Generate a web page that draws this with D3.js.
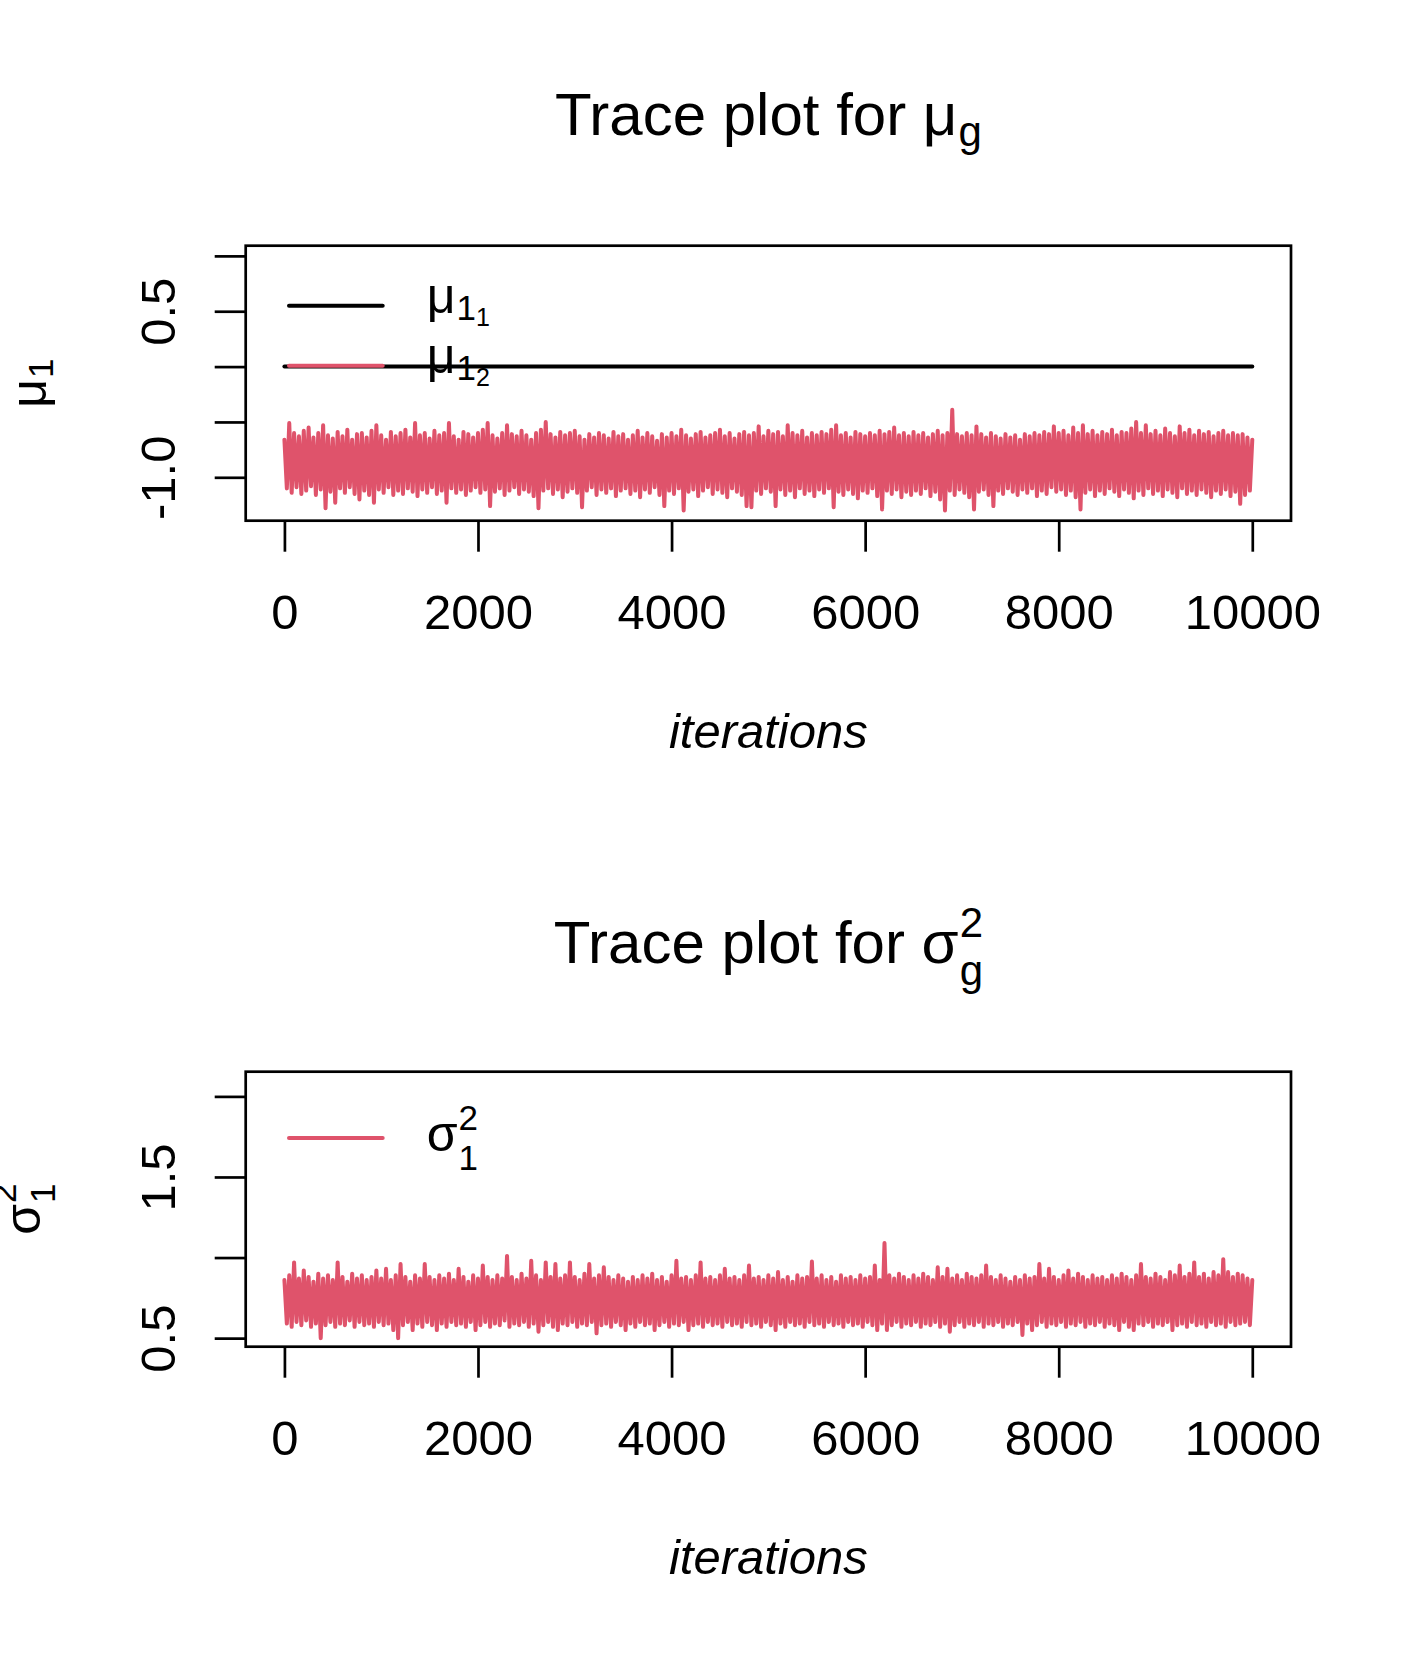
<!DOCTYPE html>
<html>
<head>
<meta charset="utf-8">
<script src="https://cdn.jsdelivr.net/npm/d3@7"></script>
<style>
  body { margin: 0; background: #fff; }
  svg { display: block; }
</style>
</head>
<body>
<svg id="chart" width="1417" height="1653"></svg>
<script>
// ---- data ----
const iterTicks = [0, 2000, 4000, 6000, 8000, 10000];
const iterLim = [0, 10000];
const stepIter = 50; // one peak every 50 iterations, one trough half way between

const muTicks = [-1.0, -0.5, 0.0, 0.5, 1.0];
const muTickLabels = ['-1.0', '', '', '0.5', ''];
const muLim = [-1.30, 1.00];

const sigmaTicks = [0.5, 1.0, 1.5, 2.0];
const sigmaTickLabels = ['0.5', '', '1.5', ''];
const sigmaLim = [0.51, 2.09];

// chain 1 of mu_1 stays flat at 0
const mu11Iter = [0, 10000];
const mu11 = [0, 0];

// chain 2 of mu_1: upper and lower edges of the trace band
const mu12Peaks = [
  -0.66, -0.51, -0.60, -0.63, -0.58, -0.55, -0.64, -0.60, -0.53, -0.62,
  -0.65, -0.59, -0.63, -0.57, -0.66, -0.61, -0.60, -0.64, -0.58, -0.53,
  -0.62, -0.66, -0.59, -0.63, -0.60, -0.57, -0.64, -0.51, -0.62, -0.60,
  -0.65, -0.58, -0.62, -0.60, -0.51, -0.63, -0.66, -0.59, -0.61, -0.64,
  -0.60, -0.57, -0.51, -0.62, -0.65, -0.60, -0.53, -0.61, -0.63, -0.58,
  -0.62, -0.66, -0.60, -0.57, -0.50, -0.61, -0.64, -0.59, -0.62, -0.60,
  -0.58, -0.63, -0.66, -0.61, -0.64, -0.60, -0.62, -0.65, -0.59, -0.63,
  -0.61, -0.66, -0.62, -0.58, -0.64, -0.60, -0.63, -0.67, -0.61, -0.64,
  -0.60, -0.63, -0.57, -0.62, -0.65, -0.61, -0.59, -0.64, -0.62, -0.60,
  -0.57, -0.63, -0.60, -0.65, -0.61, -0.59, -0.62, -0.60, -0.54, -0.63,
  -0.58, -0.61, -0.59, -0.63, -0.53, -0.60, -0.62, -0.58, -0.64, -0.60,
  -0.62, -0.59, -0.61, -0.57, -0.53, -0.62, -0.60, -0.64, -0.59, -0.61,
  -0.63, -0.60, -0.62, -0.58, -0.61, -0.59, -0.55, -0.62, -0.60, -0.63,
  -0.59, -0.62, -0.60, -0.64, -0.61, -0.58, -0.62, -0.60, -0.39, -0.61,
  -0.63, -0.60, -0.62, -0.54, -0.61, -0.64, -0.60, -0.63, -0.65, -0.61,
  -0.64, -0.62, -0.66, -0.61, -0.63, -0.60, -0.62, -0.59, -0.61, -0.54,
  -0.60, -0.58, -0.62, -0.55, -0.60, -0.53, -0.61, -0.58, -0.62, -0.59,
  -0.61, -0.57, -0.62, -0.59, -0.60, -0.56, -0.50, -0.60, -0.53, -0.61,
  -0.58, -0.62, -0.56, -0.60, -0.63, -0.54, -0.60, -0.57, -0.62, -0.58,
  -0.61, -0.59, -0.63, -0.60, -0.58, -0.62, -0.60, -0.62, -0.61, -0.64,
  -0.66
];
const mu12Troughs = [
  -1.10, -1.14, -1.09, -1.15, -1.12, -1.08, -1.16, -1.11, -1.28, -1.13,
  -1.23, -1.10, -1.14, -1.09, -1.15, -1.20, -1.12, -1.16, -1.23, -1.11,
  -1.14, -1.09, -1.16, -1.12, -1.15, -1.10, -1.13, -1.17, -1.11, -1.14,
  -1.09, -1.15, -1.12, -1.23, -1.10, -1.14, -1.11, -1.16, -1.12, -1.09,
  -1.14, -1.11, -1.26, -1.13, -1.10, -1.16, -1.12, -1.09, -1.15, -1.11,
  -1.13, -1.17, -1.28, -1.12, -1.10, -1.15, -1.11, -1.18, -1.13, -1.10,
  -1.14, -1.27, -1.12, -1.09, -1.16, -1.11, -1.14, -1.10, -1.17, -1.12,
  -1.10, -1.15, -1.12, -1.18, -1.11, -1.14, -1.09, -1.16, -1.26, -1.12,
  -1.15, -1.10, -1.30, -1.13, -1.11, -1.17, -1.12, -1.09, -1.15, -1.11,
  -1.14, -1.18, -1.10, -1.13, -1.16, -1.26, -1.27, -1.12, -1.15, -1.10,
  -1.13, -1.26, -1.11, -1.16, -1.12, -1.18, -1.10, -1.15, -1.12, -1.17,
  -1.11, -1.14, -1.10, -1.27, -1.13, -1.16, -1.11, -1.15, -1.19, -1.12,
  -1.14, -1.10, -1.17, -1.29, -1.12, -1.15, -1.11, -1.18, -1.13, -1.16,
  -1.12, -1.15, -1.10, -1.17, -1.13, -1.20, -1.30, -1.12, -1.16, -1.11,
  -1.14, -1.18, -1.29, -1.13, -1.11, -1.16, -1.26, -1.12, -1.15, -1.10,
  -1.13, -1.16, -1.11, -1.14, -1.10, -1.17, -1.12, -1.15, -1.09, -1.13,
  -1.11, -1.16, -1.12, -1.18, -1.29, -1.14, -1.11, -1.17, -1.12, -1.15,
  -1.10, -1.13, -1.17, -1.11, -1.14, -1.19, -1.12, -1.16, -1.10, -1.15,
  -1.12, -1.17, -1.11, -1.14, -1.18, -1.10, -1.15, -1.12, -1.16, -1.11,
  -1.14, -1.18, -1.12, -1.15, -1.11, -1.17, -1.13, -1.24, -1.16, -1.12
];

// sigma^2_1: upper and lower edges of the trace band
const sig1Peaks = [
  0.86, 0.89, 0.97, 0.87, 0.92, 0.88, 0.85, 0.90, 0.87, 0.89,
  0.86, 0.97, 0.88, 0.85, 0.90, 0.87, 0.89, 0.86, 0.88, 0.92,
  0.87, 0.93, 0.86, 0.89, 0.96, 0.88, 0.85, 0.89, 0.87, 0.96,
  0.88, 0.86, 0.89, 0.87, 0.90, 0.86, 0.93, 0.88, 0.85, 0.89,
  0.87, 0.95, 0.88, 0.86, 0.89, 0.87, 1.01, 0.88, 0.86, 0.90,
  0.87, 0.98, 0.89, 0.86, 0.97, 0.88, 0.96, 0.87, 0.89, 0.97,
  0.88, 0.86, 0.90, 0.96, 0.87, 0.89, 0.94, 0.88, 0.86, 0.89,
  0.87, 0.85, 0.88, 0.86, 0.89, 0.87, 0.90, 0.86, 0.88, 0.85,
  0.89, 0.98, 0.87, 0.88, 0.86, 0.89, 0.97, 0.87, 0.88, 0.86,
  0.89, 0.93, 0.87, 0.88, 0.86, 0.89, 0.95, 0.87, 0.88, 0.86,
  0.89, 0.87, 0.91, 0.86, 0.88, 0.85, 0.89, 0.87, 0.88, 0.975,
  0.87, 0.89, 0.86, 0.88, 0.85, 0.89, 0.87, 0.88, 0.86, 0.89,
  0.87, 0.88, 0.95, 0.86, 1.09, 0.89, 0.87, 0.90, 0.88, 0.86,
  0.89, 0.87, 0.90, 0.88, 0.86, 0.94, 0.88, 0.93, 0.87, 0.89,
  0.86, 0.90, 0.88, 0.87, 0.89, 0.95, 0.88, 0.86, 0.89, 0.87,
  0.85, 0.88, 0.86, 0.89, 0.87, 0.88, 0.96, 0.87, 0.93, 0.88,
  0.86, 0.89, 0.92, 0.87, 0.90, 0.88, 0.86, 0.89, 0.87, 0.88,
  0.86, 0.89, 0.87, 0.90, 0.88, 0.86, 0.89, 0.96, 0.88, 0.87,
  0.90, 0.88, 0.86, 0.91, 0.89, 0.95, 0.88, 0.90, 0.97, 0.88,
  0.90, 0.87, 0.91, 0.89, 0.99, 0.91, 0.88, 0.90, 0.89, 0.87,
  0.86
];
const sig1Troughs = [
  0.59, 0.57, 0.60, 0.58, 0.61, 0.57, 0.59, 0.50, 0.58, 0.60,
  0.57, 0.59, 0.58, 0.61, 0.57, 0.60, 0.58, 0.59, 0.57, 0.60,
  0.58, 0.59, 0.55, 0.50, 0.58, 0.60, 0.55, 0.59, 0.57, 0.60,
  0.58, 0.55, 0.59, 0.57, 0.60, 0.58, 0.59, 0.57, 0.60, 0.55,
  0.58, 0.60, 0.57, 0.59, 0.58, 0.61, 0.57, 0.59, 0.58, 0.60,
  0.57, 0.59, 0.54, 0.58, 0.60, 0.57, 0.55, 0.59, 0.58, 0.60,
  0.57, 0.59, 0.58, 0.60, 0.53, 0.58, 0.59, 0.57, 0.60, 0.58,
  0.55, 0.59, 0.57, 0.60, 0.58, 0.59, 0.55, 0.58, 0.60, 0.57,
  0.59, 0.58, 0.60, 0.55, 0.58, 0.59, 0.57, 0.60, 0.58, 0.59,
  0.57, 0.60, 0.58, 0.59, 0.57, 0.60, 0.58, 0.59, 0.57, 0.60,
  0.58, 0.55, 0.59, 0.57, 0.60, 0.58, 0.59, 0.57, 0.60, 0.58,
  0.59, 0.57, 0.60, 0.58, 0.59, 0.57, 0.60, 0.58, 0.59, 0.57,
  0.60, 0.58, 0.55, 0.59, 0.55, 0.58, 0.60, 0.57, 0.59, 0.58,
  0.60, 0.57, 0.59, 0.58, 0.60, 0.57, 0.59, 0.54, 0.58, 0.60,
  0.57, 0.59, 0.58, 0.60, 0.57, 0.59, 0.58, 0.60, 0.57, 0.59,
  0.58, 0.60, 0.52, 0.59, 0.55, 0.58, 0.60, 0.57, 0.59, 0.58,
  0.60, 0.57, 0.59, 0.58, 0.60, 0.57, 0.59, 0.58, 0.60, 0.57,
  0.59, 0.58, 0.55, 0.60, 0.57, 0.55, 0.59, 0.58, 0.60, 0.57,
  0.59, 0.58, 0.60, 0.55, 0.58, 0.59, 0.57, 0.60, 0.58, 0.59,
  0.57, 0.60, 0.58, 0.59, 0.57, 0.60, 0.58, 0.59, 0.60, 0.58
];

// ---- drawing ----
const svg = d3.select('#chart');
const FONT = '"Liberation Sans", Arial, Helvetica, sans-serif';
const RED = '#DF536B';
const BLACK = '#000';
const LWD = 4;

svg.append('rect').attr('width', 1417).attr('height', 1653).attr('fill', '#fff');

// R style axis range: 4% padding each side
function rlim(lim) {
  const d = (lim[1] - lim[0]) * 0.04;
  return [lim[0] - d, lim[1] + d];
}

// alternate peaks and troughs into one chain
function chain(peaks, troughs) {
  const pts = [];
  peaks.forEach((v, i) => {
    pts.push([i * stepIter, v]);
    if (i < troughs.length) pts.push([i * stepIter + stepIter / 2, troughs[i]]);
  });
  return pts;
}

// base glyph with optional superscript, subscript and sub-subscript, left aligned at 0
function mathText(g, base, size, o) {
  o = o || {};
  const t = g.append('text').attr('font-size', size).text(base);
  const w = t.node().getComputedTextLength();
  let extra = 0;
  if (o.sup) {
    const s = g.append('text').attr('x', w + 1).attr('y', o.supDy)
      .attr('font-size', size * 0.7).text(o.sup);
    extra = Math.max(extra, s.node().getComputedTextLength());
  }
  if (o.sub) {
    const s = g.append('text').attr('x', w + 1).attr('y', o.subDy)
      .attr('font-size', size * 0.7).text(o.sub);
    let ws = s.node().getComputedTextLength();
    if (o.subsub) {
      const ss = g.append('text').attr('x', w + 1 + ws).attr('y', o.subDy + o.subsubDy)
        .attr('font-size', size * 0.5).text(o.subsub);
      ws += ss.node().getComputedTextLength();
    }
    extra = Math.max(extra, ws);
  }
  return w + 1 + extra;
}

function centered(parent, cx, cy, rotate, build) {
  const outer = parent.append('g')
    .attr('transform', `translate(${cx},${cy})` + (rotate ? ` rotate(${rotate})` : ''));
  const inner = outer.append('g');
  const w = build(inner);
  inner.attr('transform', `translate(${-w / 2},0)`);
}

function panel(cfg) {
  const left = 245.7, right = 1291, top = cfg.top, bottom = cfg.top + 275;
  const cx = (left + right) / 2;
  const x = d3.scaleLinear().domain(rlim(iterLim)).range([left, right]);
  const y = d3.scaleLinear().domain(rlim(cfg.ylim)).range([bottom, top]);
  const line = d3.line().x(d => x(d[0])).y(d => y(d[1]));

  const g = svg.append('g').attr('font-family', FONT).attr('fill', BLACK);

  cfg.series.forEach(s => {
    g.append('path')
      .datum(s.points)
      .attr('fill', 'none')
      .attr('stroke', s.color)
      .attr('stroke-width', LWD)
      .attr('stroke-linejoin', 'round')
      .attr('stroke-linecap', 'round')
      .attr('d', line);
  });

  g.append('rect')
    .attr('x', left).attr('y', top)
    .attr('width', right - left).attr('height', bottom - top)
    .attr('fill', 'none').attr('stroke', BLACK).attr('stroke-width', 2.7);

  const xa = g.append('g')
    .attr('transform', `translate(0,${bottom})`)
    .call(d3.axisBottom(x).tickValues(iterTicks).tickSize(31).tickFormat(d3.format('d')));
  xa.attr('font-family', FONT).attr('font-size', 49);
  xa.select('.domain').remove();
  xa.selectAll('line').attr('stroke', BLACK).attr('stroke-width', 2.7);
  xa.selectAll('text').attr('y', 108.6).attr('dy', null).attr('fill', BLACK);

  const ya = g.append('g')
    .attr('transform', `translate(${left},0)`)
    .call(d3.axisLeft(y).tickValues(cfg.yTicks).tickSize(31)
      .tickFormat((d, i) => cfg.yLabels[i]));
  ya.attr('font-family', FONT).attr('font-size', 49);
  ya.select('.domain').remove();
  ya.selectAll('line').attr('stroke', BLACK).attr('stroke-width', 2.7);
  ya.selectAll('text')
    .attr('x', null).attr('dy', null)
    .attr('text-anchor', 'middle')
    .attr('fill', BLACK)
    .attr('transform', 'translate(-70.7,0) rotate(-90)');

  // x title
  g.append('text')
    .attr('x', cx).attr('y', bottom + 227.6)
    .attr('text-anchor', 'middle')
    .attr('font-size', 49).attr('font-style', 'italic')
    .text('iterations');

  // main title
  centered(g, cx, cfg.titleY, 0, inner => mathText(inner, 'Trace plot for ' + cfg.titleSym, 60, cfg.titleMath));

  // y title
  centered(g, cfg.yTitleX, (top + bottom) / 2, -90, inner => mathText(inner, cfg.yTitleSym, 50, cfg.yTitleMath));

  // legend
  cfg.legend.forEach((L, i) => {
    const ly = top + cfg.legendY + i * 60;
    g.append('line')
      .attr('x1', 289).attr('x2', 382.7)
      .attr('y1', ly).attr('y2', ly)
      .attr('stroke', L.color).attr('stroke-width', LWD)
      .attr('stroke-linecap', 'round');
    const lg = g.append('g').attr('transform', `translate(426.7,${ly + L.baseDy})`);
    mathText(lg, L.sym, 50, L.math);
  });
}

panel({
  top: 245.7,
  ylim: muLim,
  yTicks: muTicks,
  yLabels: muTickLabels,
  series: [
    { color: BLACK, points: mu11Iter.map((it, i) => [it, mu11[i]]) },
    { color: RED, points: chain(mu12Peaks, mu12Troughs) }
  ],
  titleY: 135,
  titleSym: '\u03bc',
  titleMath: { sub: 'g', subDy: 11 },
  yTitleX: 46,
  yTitleSym: '\u03bc',
  yTitleMath: { sub: '1', subDy: 7 },
  legendY: 60,
  legend: [
    { color: BLACK, sym: '\u03bc', baseDy: 7, math: { sub: '1', subDy: 7, subsub: '1', subsubDy: 6 } },
    { color: RED, sym: '\u03bc', baseDy: 7, math: { sub: '1', subDy: 7, subsub: '2', subsubDy: 6 } }
  ]
});

panel({
  top: 1071.7,
  ylim: sigmaLim,
  yTicks: sigmaTicks,
  yLabels: sigmaTickLabels,
  series: [
    { color: RED, points: chain(sig1Peaks, sig1Troughs) }
  ],
  titleY: 963,
  titleSym: '\u03c3',
  titleMath: { sup: '2', supDy: -26, sub: 'g', subDy: 22 },
  yTitleX: 40,
  yTitleSym: '\u03c3',
  yTitleMath: { sup: '2', supDy: -24, sub: '1', subDy: 15 },
  legendY: 66.3,
  legend: [
    { color: RED, sym: '\u03c3', baseDy: 13, math: { sup: '2', supDy: -21, sub: '1', subDy: 19 } }
  ]
});
</script>
</body>
</html>
